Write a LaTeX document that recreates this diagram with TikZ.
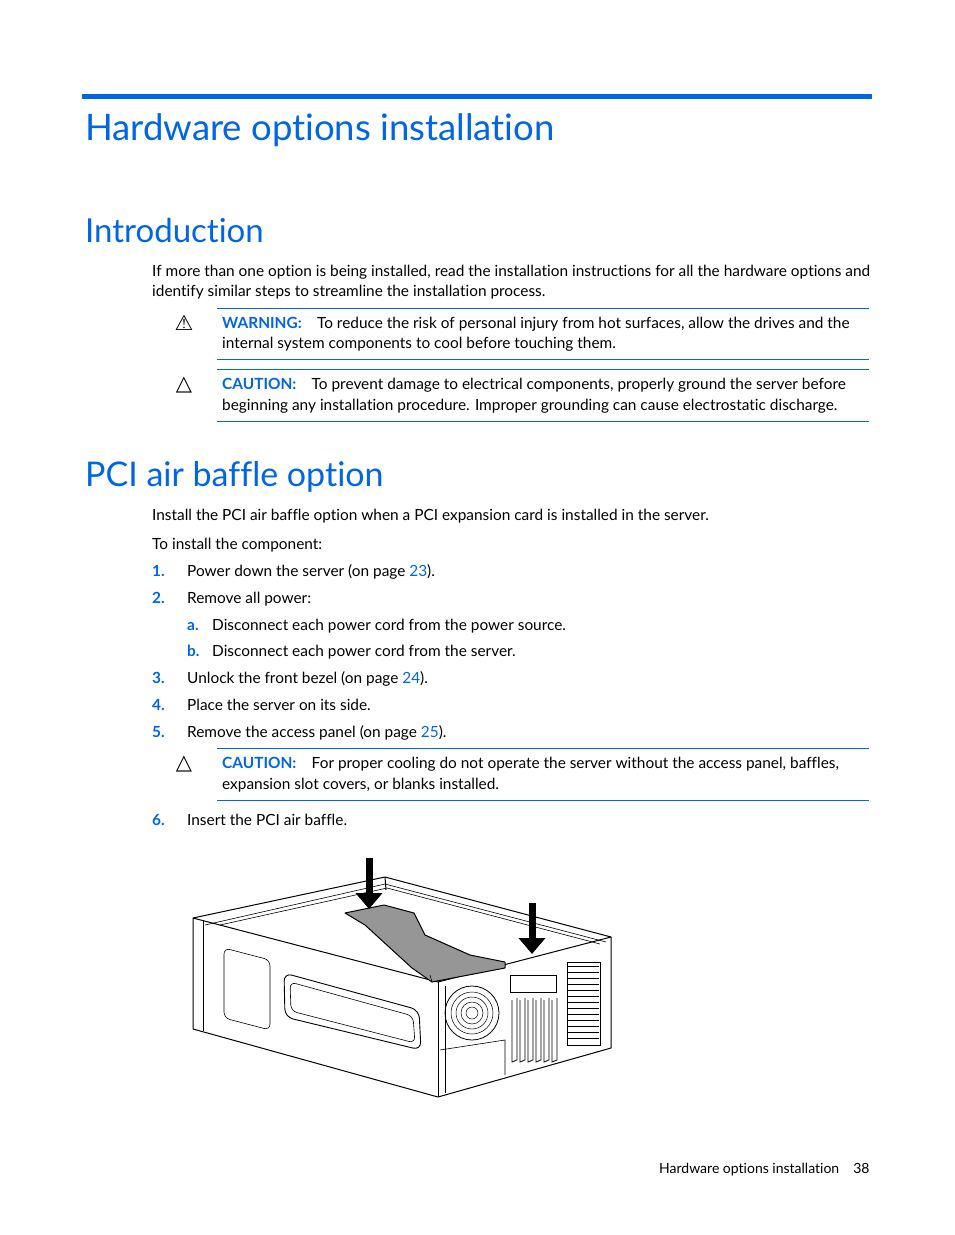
\documentclass[tikz,border=0pt]{standalone}
\usepackage{fontspec}
\setmainfont{Lato}[Ligatures={NoCommon}]
\newfontfamily\symfont{DejaVu Sans}
\usetikzlibrary{arrows.meta}
\definecolor{hpblue}{RGB}{0,102,230}
\definecolor{bafflegray}{RGB}{150,150,150}
\tikzset{
  body/.style={anchor=base west,inner sep=0pt,font=\fontsize{15.4}{18}\selectfont},
  head/.style={anchor=base west,inner sep=0pt,text=hpblue},
  num/.style={body,text=hpblue,font=\fontsize{15.4}{18}\selectfont\bfseries},
  rule/.style={hpblue,line width=0.7pt},
  warn/.style={anchor=center,inner sep=0pt,font=\symfont\fontsize{21}{21}\selectfont},
  metal/.style={line width=1pt,line join=round},
  push/.style={-{Triangle[length=16pt,width=26pt]},line width=7pt}
}
\begin{document}
\begin{tikzpicture}[x=1pt,y=-1pt]
\useasboundingbox (0,0) rectangle (954,1235);
\fill[white] (0,0) rectangle (954,1235);
% headings
\fill[hpblue] (82,94) rectangle (872,99);
\node[head,font=\fontsize{36.5}{44}\selectfont] (title) at (85,140) {Hardware options installation};
\node[head,font=\fontsize{33}{40}\selectfont] (intro) at (85,242) {Introduction};
\node[body] (p1) at (152,276) {If more than one option is being installed, read the installation instructions for all the hardware options and};
\node[body] (p2) at (152,296) {identify similar steps to streamline the installation process.};
% notices
\draw[rule] (217,308) -- (869,308);
\draw[rule] (217,359) -- (869,359);
\draw[rule] (217,369) -- (869,369);
\draw[rule] (217,421) -- (869,421);
\node[warn] (w1) at (184,323) {⚠};
\node[body] (w1a) at (222,328) {\textcolor{hpblue}{\bfseries WARNING:}\quad To reduce the risk of personal injury from hot surfaces, allow the drives and the};
\node[body] (w1b) at (222,348) {internal system components to cool before touching them.};
\node[warn] (c1) at (184,385) {△};
\node[body] (c1a) at (222,389) {\textcolor{hpblue}{\bfseries CAUTION:}\quad To prevent damage to electrical components, properly ground the server before};
\node[body] (c1b) at (222,410) {beginning any installation procedure. Improper grounding can cause electrostatic discharge.};
\node[head,font=\fontsize{34}{40}\selectfont] (pci) at (85,486) {PCI air baffle option};
\node[body] (p3) at (152,520) {Install the PCI air baffle option when a PCI expansion card is installed in the server.};
\node[body] (p4) at (152,549) {To install the component:};
% steps
\node[num] (n1) at (152,576) {1.};
\node[body] (s1) at (187,576) {Power down the server (on page \textcolor{hpblue}{23}).};
\node[num] (n2) at (152,603) {2.};
\node[body] (s2) at (187,603) {Remove all power:};
\node[num] (na) at (187,630) {a.};
\node[body] (sa) at (212,630) {Disconnect each power cord from the power source.};
\node[num] (nb) at (187,656) {b.};
\node[body] (sb) at (212,656) {Disconnect each power cord from the server.};
\node[num] (n3) at (152,683) {3.};
\node[body] (s3) at (187,683) {Unlock the front bezel (on page \textcolor{hpblue}{24}).};
\node[num] (n4) at (152,710) {4.};
\node[body] (s4) at (187,710) {Place the server on its side.};
\node[num] (n5) at (152,737) {5.};
\node[body] (s5) at (187,737) {Remove the access panel (on page \textcolor{hpblue}{25}).};
\draw[rule] (217,748) -- (869,748);
\draw[rule] (217,800) -- (869,800);
\node[warn] (c2) at (184,764) {△};
\node[body] (c2a) at (222,768) {\textcolor{hpblue}{\bfseries CAUTION:}\quad For proper cooling do not operate the server without the access panel, baffles,};
\node[body] (c2b) at (222,789) {expansion slot covers, or blanks installed.};
\node[num] (n6) at (152,825) {6.};
\node[body] (s6) at (187,825) {Insert the PCI air baffle.};
% server
\draw[metal,fill=white] (193,918) -- (385,877) -- (611,937) -- (611,1048) -- (438,1097) -- (193,1029) -- cycle;
\draw[metal] (193,918) -- (438,982) -- (611,937);
\draw[metal] (438,982) -- (438,1097);
\draw[metal] (203,921) -- (203,1031);
\draw[metal] (385,877) -- (386,890);
\draw[line width=0.6pt] (220,925) -- (387,888) -- (600,944);
\draw[line width=0.6pt] (205,925) -- (385,884) -- (606,942);
\draw[line width=0.6pt,rounded corners=6pt] (224,948) -- (270,960) -- (270,1030) -- (224,1018) -- cycle;
\draw[line width=0.9pt,rounded corners=8pt] (284,973) -- (419,1010) -- (421,1050) -- (285,1017) -- cycle;
\draw[line width=0.6pt,rounded corners=6pt] (290,982) -- (413,1016) -- (415,1043) -- (291,1011) -- cycle;
\draw[line width=0.6pt] (445,986) -- (445,1093);
\draw[line width=0.6pt] (440,1050) -- (505,1040) -- (505,1075);
% fan
\draw[line width=0.8pt] (472,1013) circle (27);
\foreach \r in {6,11,16,21} \draw[line width=0.5pt] (472,1013) circle (\r);
% pci slots
\foreach \x in {512,520,528,536,544,552} \draw[line width=0.8pt] (\x,1000) -- (\x,1062) -- (\x+5,1060) -- (\x+5,998);
\draw[line width=0.6pt] (510,975) rectangle (556,992);
% vent
\draw[line width=0.6pt] (567,962) rectangle (600,1045);
\foreach \y in {966,972,...,1042} \draw[line width=0.3pt] (568,\y) -- (599,\y);
% baffle
\draw[metal,fill=bafflegray] (345,913) -- (384,905) -- (414,913) -- (425,935) -- (470,955) -- (505,962) -- (505,968) -- (432,982) -- (412,968) -- (365,925) -- cycle;
\draw[line width=0.6pt] (430,975) -- (432,982);
% arrows
\coordinate (a1s) at (369,858);
\coordinate (a1e) at (369,909);
\coordinate (a2s) at (532,903);
\coordinate (a2e) at (532,954);
\draw[push] (a1s) -- (a1e);
\draw[push] (a2s) -- (a2e);
% footer
\node[body,font=\fontsize{14}{17}\selectfont] (foot) at (659,1173) {Hardware options installation\quad 38};
\end{tikzpicture}
\end{document}
